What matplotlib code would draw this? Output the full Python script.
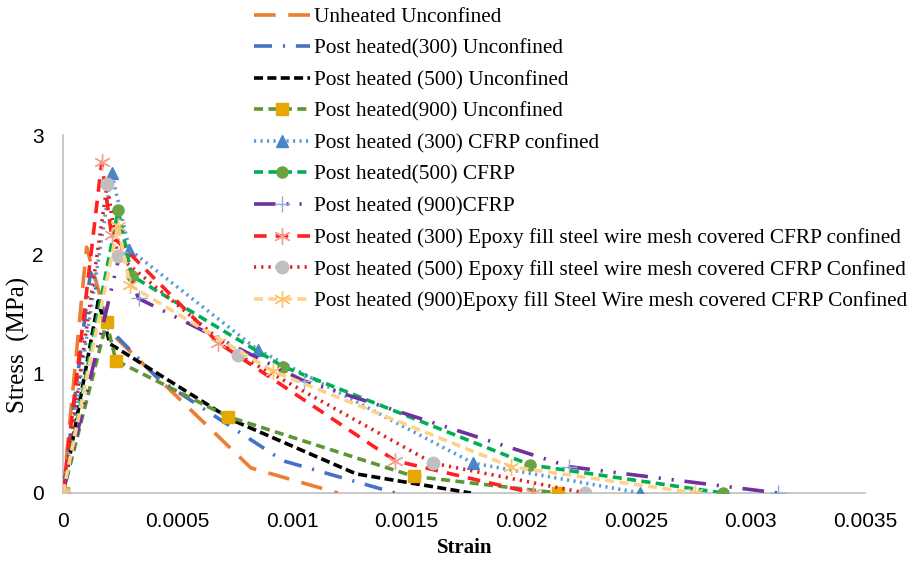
import matplotlib
matplotlib.use('Agg')
import matplotlib.pyplot as plt

# strain / stress
unheated_x = [0, 0.000103, 0.000205, 0.00082, 0.0012]
unheated_y = [0, 2.06, 1.35, 0.21, 0]
ph300_x = [0, 0.00012, 0.0002, 0.00042, 0.00096, 0.00145]
ph300_y = [0, 1.85, 1.38, 0.95, 0.27, 0]
ph500_x = [0, 0.000154, 0.000205, 0.00074, 0.00128, 0.00178]
ph500_y = [0, 1.61, 1.25, 0.61, 0.16, 0]
ph900_x = [0, 0.00019, 0.000231, 0.00072, 0.00153, 0.00216]
ph900_y = [0, 1.43, 1.11, 0.64, 0.14, 0]
cfrp300_x = [0, 0.000212, 0.00029, 0.00085, 0.00179, 0.00252]
cfrp300_y = [0, 2.68, 2.04, 1.2, 0.25, 0]
cfrp500_x = [0, 0.000241, 0.0003, 0.00096, 0.00204, 0.00288]
cfrp500_y = [0, 2.37, 1.82, 1.06, 0.235, 0]
cfrp900_x = [0, 0.00025, 0.00033, 0.00105, 0.00221, 0.00312]
cfrp900_y = [0, 2.02, 1.63, 0.94, 0.22, 0]
epoxy300_x = [0, 0.000169, 0.000212, 0.000677, 0.00145, 0.00205]
epoxy300_y = [0, 2.77, 2.16, 1.26, 0.27, 0]
epoxy500_x = [0, 0.000193, 0.000238, 0.000762, 0.001615, 0.00228]
epoxy500_y = [0, 2.59, 1.99, 1.16, 0.25, 0]
epoxy900_x = [0, 0.00024, 0.000292, 0.000917, 0.001957, 0.00276]
epoxy900_y = [0, 2.24, 1.74, 1.02, 0.22, 0]

labels = ['Unheated Unconfined',
          'Post heated(300) Unconfined',
          'Post heated (500) Unconfined',
          'Post heated(900) Unconfined',
          'Post heated (300) CFRP confined',
          'Post heated(500) CFRP',
          'Post heated (900)CFRP',
          'Post heated (300) Epoxy fill steel wire mesh covered CFRP confined',
          'Post heated (500) Epoxy fill steel wire mesh covered CFRP Confined',
          'Post heated (900)Epoxy fill Steel Wire mesh covered CFRP Confined']

xticks = [0, 0.0005, 0.001, 0.0015, 0.002, 0.0025, 0.003, 0.0035]
xtick_labels = ['0', '0.0005', '0.001', '0.0015', '0.002', '0.0025', '0.003', '0.0035']
yticks = [0, 1, 2, 3]

fig = plt.figure(figsize=(9.18, 5.62), dpi=100)
ax = fig.add_axes([63/918, 69/562, 802/918, 358/562])

lw = 2.6
ax.plot(unheated_x, unheated_y, color='#ED7D31', lw=lw, dashes=(6, 3.5), label=labels[0])
ax.plot(ph300_x, ph300_y, color='#4472C4', lw=lw, dashes=(5, 3, 0.6, 3), label=labels[1])
ax.plot(ph500_x, ph500_y, color='black', lw=lw, dashes=(2.5, 1.2), label=labels[2])
ax.plot(ph900_x, ph900_y, color='#5E9636', lw=lw, dashes=(2.5, 1.5), marker='s', ms=8,
        mfc='#E6A800', mec='#E6A800', label=labels[3])
ax.plot(cfrp300_x, cfrp300_y, color='#5B9BD5', lw=lw, dashes=(0.6, 1.2), marker='^', ms=9,
        mfc='#4A86C5', mec='#4A86C5', label=labels[4])
ax.plot(cfrp500_x, cfrp500_y, color='#00B050', lw=lw, dashes=(2.5, 1.5), marker='o', ms=8,
        mfc='#6AA342', mec='#6AA342', label=labels[5])
ax.plot(cfrp900_x, cfrp900_y, color='#7030A0', lw=lw, dashes=(6, 3, 0.6, 3, 0.6, 3),
        marker='+', ms=11, mew=1, mfc='#8FAADC', mec='#8FAADC', label=labels[6])
ax.plot(epoxy300_x, epoxy300_y, color='#FF2020', lw=lw, dashes=(3.5, 2.5), marker=(6, 2, 0),
        ms=12, mew=1, mec='#F4A090', label=labels[7])
ax.plot(epoxy500_x, epoxy500_y, color='#E02020', lw=lw, dashes=(0.6, 1.4), marker='o', ms=9,
        mfc='#BFBFBF', mec='#BFBFBF', label=labels[8])
ax.plot(epoxy900_x, epoxy900_y, color='#FFD28A', lw=lw, dashes=(2.5, 1.5), marker=(6, 2, 0),
        ms=12, mew=1, mec='#FFC070', label=labels[9])

ax.set_xlim(0, 0.0035)
ax.set_ylim(0, 3)
ax.set_xticks(xticks)
ax.set_xticklabels(xtick_labels)
ax.set_yticks(yticks)
ax.tick_params(length=0, labelsize=15, pad=14)
for lab in ax.get_xticklabels() + ax.get_yticklabels():
    lab.set_fontfamily('Liberation Sans')
for s in ['top', 'right']:
    ax.spines[s].set_visible(False)
for s in ['left', 'bottom']:
    ax.spines[s].set_color('#BFBFBF')
    ax.spines[s].set_linewidth(1.2)
    ax.spines[s].set_zorder(0)

fig.text(465/918, 1 - 548/562, 'Strain', family='Liberation Serif', fontweight='bold',
         fontsize=15, ha='center', va='center')
fig.text(18/918, 1 - 345/562, 'Stress  (MPa)', family='Liberation Serif', fontsize=18,
         rotation=90, ha='center', va='center')

leg = fig.legend(loc='upper left', bbox_to_anchor=(252/918, 1 - 5/562), frameon=False,
                 prop={'family': 'Liberation Serif', 'size': 15.3}, numpoints=1,
                 handlelength=2.65, handletextpad=0.15, labelspacing=0.55,
                 borderaxespad=0, borderpad=0.1)

fig.savefig('out.png', dpi=100)
